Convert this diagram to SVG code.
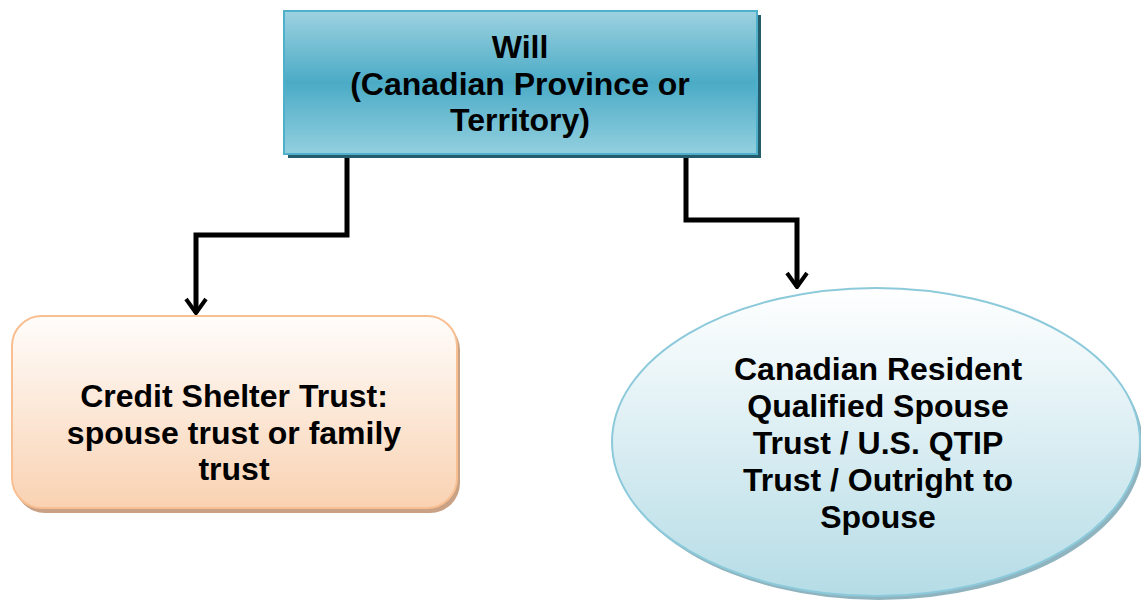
<svg xmlns="http://www.w3.org/2000/svg" width="1141" height="603" viewBox="0 0 1141 603">
<defs>
<linearGradient id="gTop" x1="0" y1="0" x2="0" y2="1">
<stop offset="0" stop-color="#9dd2e0"/>
<stop offset="0.5" stop-color="#4babc6"/>
<stop offset="1" stop-color="#93cfdf"/>
</linearGradient>
<linearGradient id="gLeft" x1="0" y1="0" x2="0" y2="1">
<stop offset="0" stop-color="#fffdfb"/>
<stop offset="1" stop-color="#f9d2b2"/>
</linearGradient>
<linearGradient id="gRight" x1="0" y1="0" x2="0" y2="1">
<stop offset="0" stop-color="#ffffff"/>
<stop offset="1" stop-color="#b5dce6"/>
</linearGradient>
<marker id="arr" viewBox="0 0 20 24" refX="18" refY="12" markerWidth="20" markerHeight="24" markerUnits="userSpaceOnUse" orient="auto">
<path d="M4,2 L18,12 L4,22" fill="none" stroke="#000" stroke-width="4"/>
</marker>
<style>
text{font-family:"Liberation Sans",Arial,sans-serif;font-weight:bold;font-size:32px;fill:#000;text-anchor:middle}
.conn{fill:none;stroke:#000;stroke-width:5}
</style>
</defs>
<g id="connectors">
<path class="conn" d="M347,154 V235 H196 V313" marker-end="url(#arr)"/>
<path class="conn" d="M686,154 V220 H797 V287" marker-end="url(#arr)"/>
</g>
<g id="will">
<rect x="288" y="15" width="473" height="143" fill="#255c6b"/>
<rect x="284" y="11" width="473" height="143" fill="url(#gTop)" stroke="#4fb0cb" stroke-width="2"/>
<text x="520" y="58">Will</text>
<text x="520" y="95">(Canadian Province or</text>
<text x="520" y="131">Territory)</text>
</g>
<g id="credit">
<rect x="15" y="320" width="445" height="193" rx="30" fill="#c9a184"/>
<rect x="12" y="316" width="445" height="192" rx="30" fill="url(#gLeft)" stroke="#f8bf92" stroke-width="2"/>
<text x="234" y="407">Credit Shelter Trust:</text>
<text x="234" y="444">spouse trust or family</text>
<text x="234" y="480">trust</text>
</g>
<g id="spouse">
<ellipse cx="879" cy="446" rx="264" ry="154" fill="#8fb4bf"/>
<ellipse cx="876" cy="442" rx="264" ry="154" fill="url(#gRight)" stroke="#8ccadb" stroke-width="2"/>
<text x="878" y="380">Canadian Resident</text>
<text x="878" y="417">Qualified Spouse</text>
<text x="878" y="454">Trust / U.S. QTIP</text>
<text x="878" y="491">Trust / Outright to</text>
<text x="878" y="528">Spouse</text>
</g>
</svg>
